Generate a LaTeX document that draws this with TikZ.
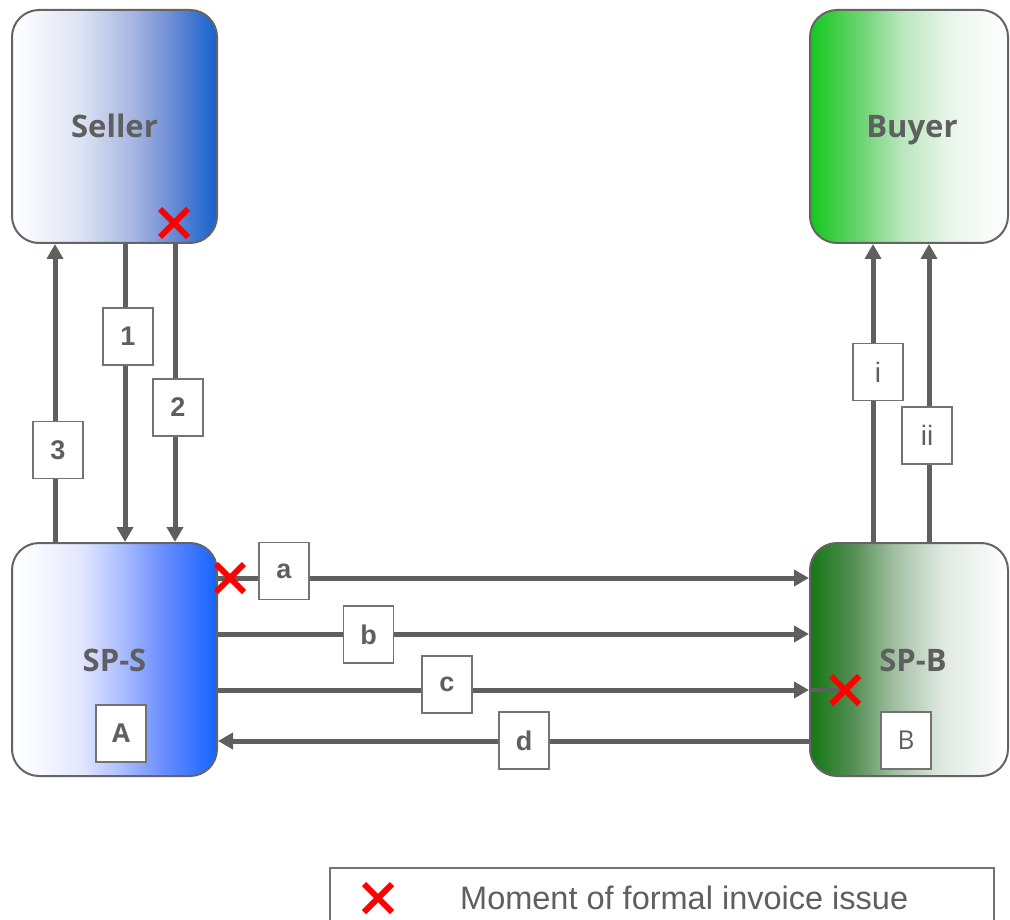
\documentclass[tikz,border=0pt]{standalone}
\usepackage{fontspec}
\setmainfont{Liberation Sans}
\newfontfamily\osf{Open Sans}
\usetikzlibrary{arrows.meta}
\definecolor{txtgray}{RGB}{95,95,95}
\definecolor{linegray}{RGB}{95,95,95}
\definecolor{boxgray}{RGB}{100,100,100}
\definecolor{labgray}{RGB}{115,115,115}
\definecolor{xred}{RGB}{255,0,0}
% seller
\definecolor{sA}{RGB}{244,246,252}
\definecolor{sB}{RGB}{220,226,242}
\definecolor{sC}{RGB}{165,180,225}
\definecolor{sD}{RGB}{100,135,212}
\definecolor{sE}{RGB}{20,98,205}
% sp-s
\definecolor{pA}{RGB}{246,248,255}
\definecolor{pB}{RGB}{226,230,255}
\definecolor{pC}{RGB}{170,188,255}
\definecolor{pD}{RGB}{105,140,255}
\definecolor{pE}{RGB}{20,100,255}
% buyer
\definecolor{bA}{RGB}{20,200,30}
\definecolor{bB}{RGB}{110,212,115}
\definecolor{bC}{RGB}{185,230,188}
\definecolor{bD}{RGB}{232,245,234}
\definecolor{bE}{RGB}{255,255,255}
% sp-b
\definecolor{gA}{RGB}{20,120,20}
\definecolor{gB}{RGB}{85,142,85}
\definecolor{gC}{RGB}{160,190,160}
\definecolor{gD}{RGB}{222,232,224}
\definecolor{gE}{RGB}{255,255,255}
\pgfdeclarehorizontalshading{sellershade}{100bp}{color(0bp)=(white); color(25bp)=(white); color(31bp)=(sA); color(42bp)=(sB); color(55bp)=(sC); color(65bp)=(sD); color(75bp)=(sE); color(100bp)=(sE)}
\pgfdeclarehorizontalshading{spsshade}{100bp}{color(0bp)=(white); color(25bp)=(white); color(32bp)=(pA); color(42bp)=(pB); color(52bp)=(pC); color(62bp)=(pD); color(75bp)=(pE); color(100bp)=(pE)}
\pgfdeclarehorizontalshading{buyershade}{100bp}{color(0bp)=(bA); color(25bp)=(bA); color(38bp)=(bB); color(48bp)=(bC); color(60bp)=(bD); color(75bp)=(bE); color(100bp)=(bE)}
\pgfdeclarehorizontalshading{spbshade}{100bp}{color(0bp)=(gA); color(25bp)=(gA); color(36bp)=(gB); color(46bp)=(gC); color(58bp)=(gD); color(75bp)=(gE); color(100bp)=(gE)}
\tikzset{
  entity/.style={draw=boxgray, line width=2pt, rounded corners=27pt,
    minimum width=205pt, minimum height=233pt, inner sep=0pt,
    text height=23pt, text depth=0pt,
    text=txtgray, font=\osf\bfseries\fontsize{31}{36}\selectfont},
  conn/.style={draw=linegray, line width=5pt,
    -{Triangle[width=16pt,length=15pt]}},
  lab/.style={draw=labgray, line width=1.5pt, fill=white,
    minimum width=50pt, minimum height=57pt, inner sep=0pt,
    text=txtgray, font=\bfseries\fontsize{27}{30}\selectfont},
  labr/.style={lab, font=\fontsize{28}{30}\selectfont},
  redx/.pic={\draw[xred, line width=6pt] (-14,-14) -- (14,14) (-14,14) -- (14,-14);}
}
\begin{document}
\begin{tikzpicture}[x=1pt,y=-1pt]
\clip (0,0) rectangle (1010,920);
\fill[white] (0,0) rectangle (1010,920);

\node[entity, shading=sellershade] (seller) at (114.5,126.5) {Seller};
\node[entity, shading=buyershade, minimum width=198pt] (buyer) at (909,126.5) {\hspace*{6pt}Buyer};
\node[entity, shading=spsshade] (sps) at (114.5,659.5) {SP-S};
\node[entity, shading=spbshade, minimum width=198pt] (spb) at (909,659.5) {\hspace*{8pt}SP-B};

\coordinate (x3) at (55,0);
\coordinate (x1) at (125,0);
\coordinate (x2) at (175,0);
\coordinate (xi) at (873,0);
\coordinate (xii) at (929,0);
\coordinate (ya) at (0,578);
\coordinate (yb) at (0,634);
\coordinate (yc) at (0,690);
\coordinate (yd) at (0,741);
\coordinate (xc) at (845,690);

\draw[conn] (sps.north -| x3) -- (seller.south -| x3);
\draw[conn] (seller.south -| x1) -- (sps.north -| x1);
\draw[conn] (seller.south -| x2) -- (sps.north -| x2);
\draw[conn] (spb.north -| xi) -- (buyer.south -| xi);
\draw[conn] (spb.north -| xii) -- (buyer.south -| xii);

\draw[conn] (sps.east |- ya) -- (spb.west |- ya);
\draw[conn] (sps.east |- yb) -- (spb.west |- yb);
\draw[conn] (sps.east |- yc) -- (spb.west |- yc);
\draw[conn] (spb.west |- yd) -- (sps.east |- yd);
\draw[draw=linegray, line width=4pt] (spb.west |- yc) -- (xc);

\node[lab] (l1) at (128,336.5) {1};
\node[lab] (l2) at (178,407.5) {2};
\node[lab] (l3) at (58,450) {3};
\node[labr] (li) at (878,372) {i};
\node[labr] (lii) at (927,435.5) {ii};
\node[lab] (la) at (284,571) {a};
\node[lab] (lb) at (368.5,634.5) {b};
\node[lab] (lc) at (447,684.5) {c};
\node[lab] (ld) at (524,740.5) {d};
\node[lab, font=\osf\bfseries\fontsize{26}{30}\selectfont] (boxA) at (121,733.5) {A};
\node[lab, font=\osf\fontsize{26}{30}\selectfont] (boxB) at (906,740.5) {B};

\pic at (174,223) {redx};
\pic at (230,578) {redx};
\pic at (xc) {redx};

\node[draw=labgray, line width=1.5pt, minimum width=664pt, minimum height=70pt, inner sep=0pt] (legend) at (662,903) {};
\pic at (378,898) {redx};
\node[anchor=west, inner sep=0pt, text=txtgray, font=\fontsize{32.5}{36}\selectfont] (legtext) at (460,898) {Moment of formal invoice issue};
\end{tikzpicture}
\end{document}
